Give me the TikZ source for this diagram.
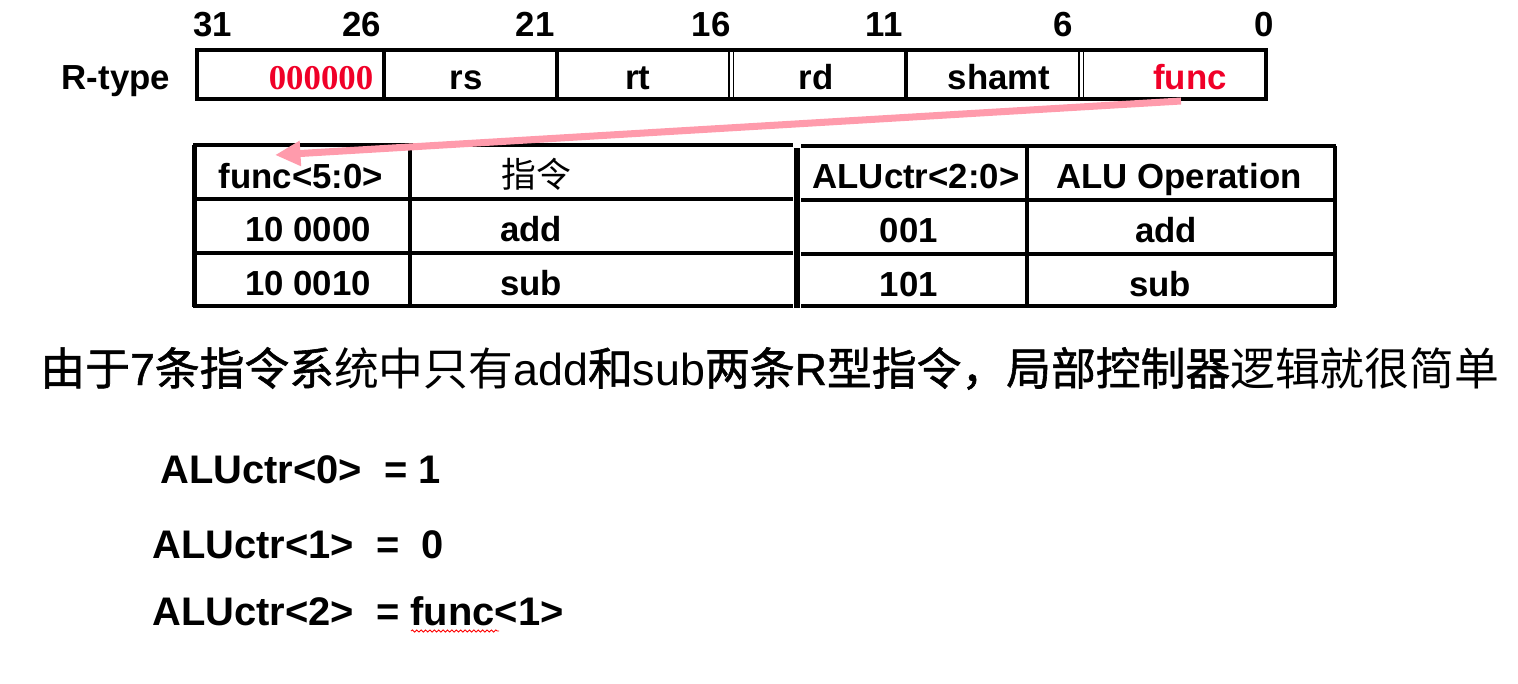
\documentclass[tikz,border=0pt]{standalone}
\usepackage{fontspec}
\setmainfont{Liberation Sans}
\newfontfamily\cjk{Noto Sans CJK SC}
\newfontfamily\cjkheavy[FakeBold=1.3]{Noto Sans CJK SC}
\newfontfamily\latheavy[FakeBold=1.0]{Liberation Sans}
\newfontfamily\tnr{Liberation Serif}
\usetikzlibrary{arrows.meta,decorations.pathmorphing}
\definecolor{fieldred}{RGB}{240,0,40}
\definecolor{arrowpink}{RGB}{255,155,172}
\begin{document}
\begin{tikzpicture}[x=0.02cm,y=-0.02cm,
  lab/.style={font=\fontsize{19.8}{24}\selectfont\bfseries, inner sep=0pt, anchor=base},
  frm/.style={font=\fontsize{22.7}{27}\selectfont\bfseries, inner sep=0pt, anchor=base west},
  sent/.style={font=\fontsize{25.5}{30}\selectfont, inner sep=0pt, anchor=base west},
  regline/.style={line width=2.3pt},
  dbl/.style={line width=1pt},
  tbl/.style={line width=2.6pt},
  tblthick/.style={line width=3.2pt},
  pinkarrow/.style={draw=arrowpink, line width=4pt, -{Triangle[length=14.5pt,width=13.5pt]}}
]
\useasboundingbox (0,0) rectangle (1518,683);

% bit numbers
\node[lab] (b31) at (213,36) {31};
\node[lab] (b26) at (362,36) {26};
\node[lab] (b21) at (535,36) {21};
\node[lab] (b16) at (711,36) {16};
\node[lab] (b11) at (884,36) {11};
\node[lab] (b6)  at (1063,36) {6};
\node[lab] (b0)  at (1264,36) {0};

% register
\node[lab] (rtype) at (116,89) {R-type};
\draw[regline] (197,50) rectangle (1266,99);
\draw[regline] (384,50) -- (384,99);
\draw[regline] (557,50) -- (557,99);
\draw[dbl] (729,50) -- (729,99);
\draw[dbl] (733.5,50) -- (733.5,99);
\draw[regline] (906,50) -- (906,99);
\draw[dbl] (1079,50) -- (1079,99);
\draw[dbl] (1083.5,50) -- (1083.5,99);
\node[lab, font=\fontsize{19.8}{24}\selectfont\tnr\bfseries, text=fieldred] (op) at (321,89) {000000};
\node[lab] (rs) at (466,89) {rs};
\node[lab] (rt) at (638,89) {rt};
\node[lab] (rd) at (816,89) {rd};
\node[lab] (shamt) at (999,89) {shamt};
\node[lab, text=fieldred] (func) at (1190,89) {func};

% left table
\draw[tbl] (193,145) -- (793,145);
\draw[tbl] (193,199) -- (793,199);
\draw[tbl] (193,253) -- (793,253);
\draw[tbl] (193,306) -- (793,306);
\draw[tbl] (194.5,145) -- (194.5,307);
\draw[tbl] (410,145) -- (410,307);
\node[lab] (fh) at (301,188) {func<5:0>};
\node[lab, font=\fontsize{19.8}{24}\selectfont\cjk] (ih) at (536,187) {指令};
\node[lab] (f1) at (308,241) {10 0000};
\node[lab] (i1) at (531,241) {add};
\node[lab] (f2) at (308,295) {10 0010};
\node[lab] (i2) at (531,295) {sub};

% right table
\draw[tbl] (801,146) -- (1336,146);
\draw[tbl] (801,200) -- (1336,200);
\draw[tbl] (801,254) -- (1336,254);
\draw[tbl] (801,306) -- (1336,306);
\draw[tblthick] (797,148) -- (797,308);
\draw[tbl] (1027,146) -- (1027,306);
\draw[tbl] (1335,146) -- (1335,307);
\node[lab] (ah) at (916,188) {ALUctr<2:0>};
\node[lab] (oh) at (1179,188) {ALU Operation};
\node[lab] (a1) at (909,242) {001};
\node[lab] (o1) at (1166,242) {add};
\node[lab] (a2) at (909,296) {101};
\node[lab] (o2) at (1160,296) {sub};

% arrow
\coordinate (astart) at (1181,101);
\coordinate (atip) at (275,155);
\draw[pinkarrow] (astart) -- (atip);

% sentence
\node[sent] (sentence) at (40,385) {{\cjkheavy 由于}{\latheavy 7}{\cjkheavy 条指令系}{\cjk 统中只有}add{\cjkheavy 和}sub{\cjkheavy 两条}{\latheavy R}{\cjkheavy 型指令，局部控制器}{\cjk 逻辑就很简单}};

% formulas
\node[frm] (eq0) at (160,483) {ALUctr<0>~~= 1};
\node[frm] (eq1) at (152,558) {ALUctr<1>~~=~~0};
\node[frm] (eq2) at (152,625) {ALUctr<2>~~= func<1>};
\coordinate (sq1) at (411,631);
\coordinate (sq2) at (499,631);
\draw[red, line width=0.5pt, decorate, decoration={snake, amplitude=0.6pt, segment length=2.5pt}] (sq1) -- (sq2);
\end{tikzpicture}
\end{document}
